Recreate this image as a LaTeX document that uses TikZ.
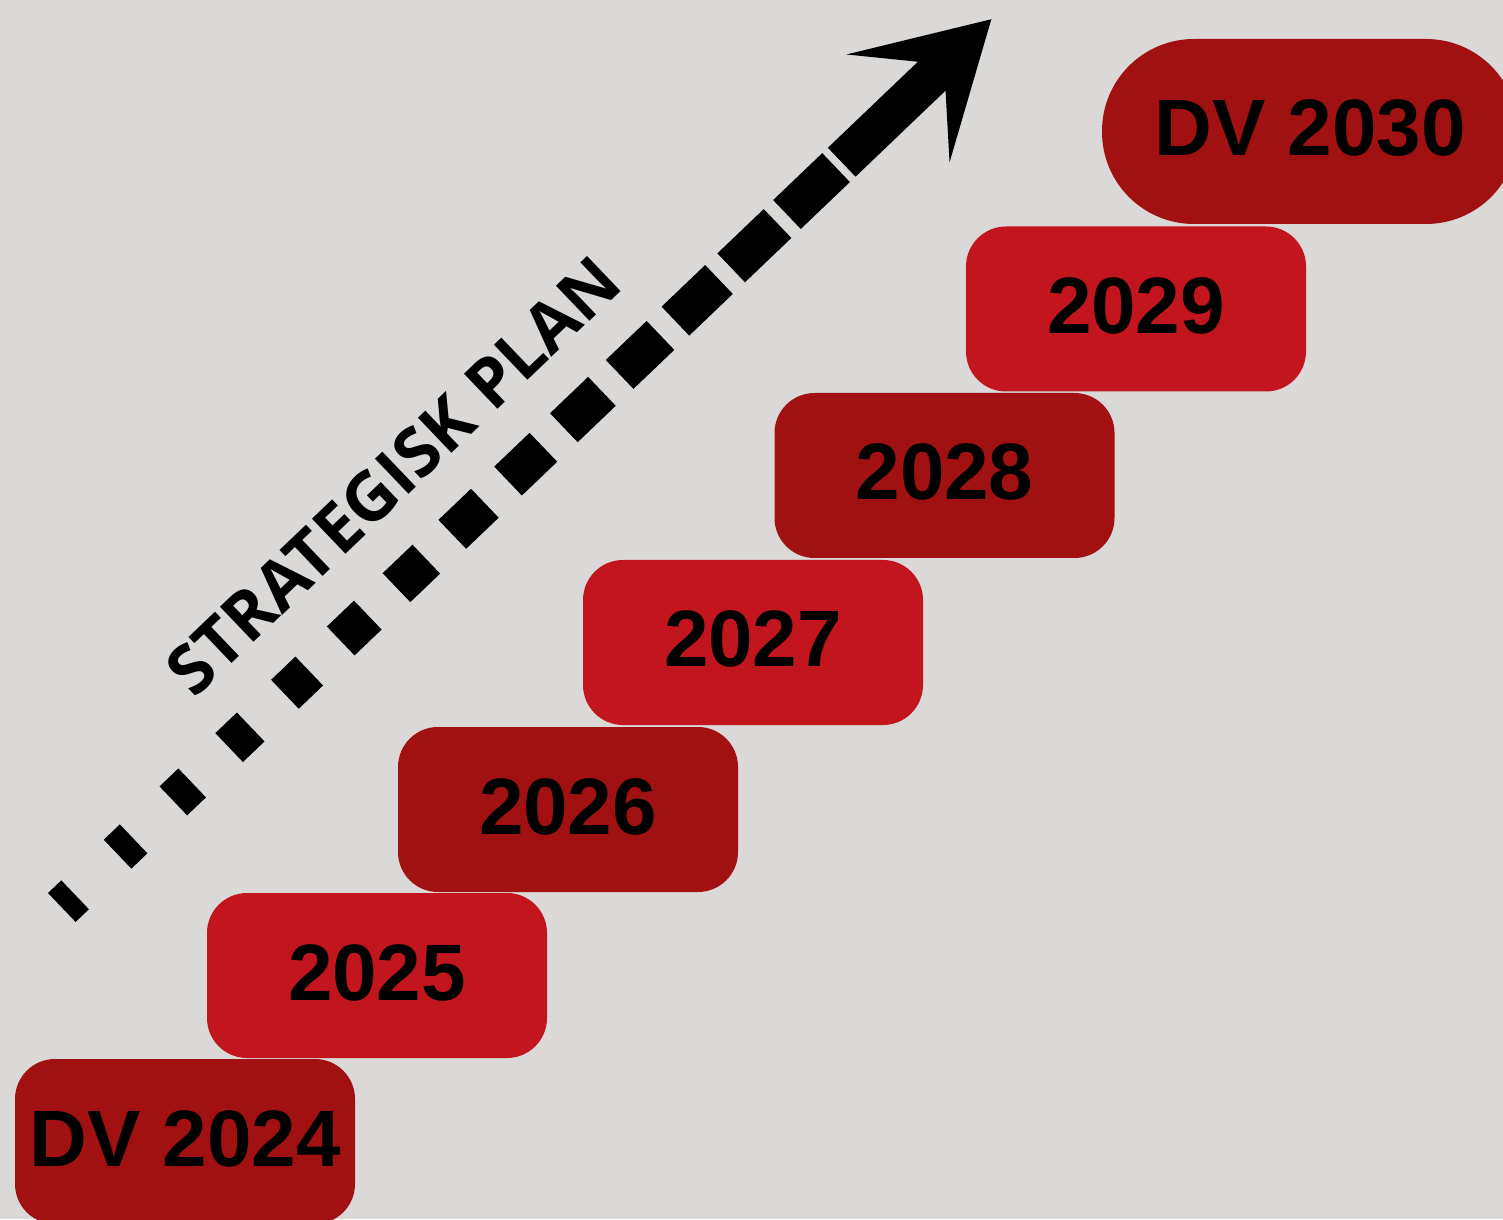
\documentclass[tikz,border=0pt]{standalone}
\usepackage{fontspec}
\setmainfont{Liberation Sans}
\newfontfamily\labelfont{Open Sans}
\definecolor{bg}{RGB}{218,217,215}
\definecolor{lightred}{RGB}{194,21,29}
\definecolor{darkred}{RGB}{162,17,18}
\begin{document}
\begin{tikzpicture}[x=1pt,y=1pt,
  yearbox/.style={rectangle, rounded corners=40pt, minimum width=340pt, minimum height=165pt,
    inner sep=0pt, font=\fontsize{80}{80}\selectfont\bfseries, text height=57pt, text depth=8pt, text=black},
  lightbox/.style={yearbox, fill=lightred},
  darkbox/.style={yearbox, fill=darkred},
  arrowpart/.style={fill=black},
  plantext/.style={font=\fontsize{68}{68}\selectfont\labelfont\bfseries, text=black, inner sep=0pt, anchor=base, transform shape}
]
\useasboundingbox (0,0) rectangle (1503,1219);
\fill[bg] (0,0) rectangle (1503,1219);
\clip (0,0) rectangle (1503,1219);

\node[darkbox]  (y2024) at (185,77.5)   {DV 2024};
\node[lightbox] (y2025) at (377,243.5)  {2025};
\node[darkbox]  (y2026) at (568,409.5)  {2026};
\node[lightbox] (y2027) at (753,576.5)  {2027};
\node[darkbox]  (y2028) at (944.5,743.5) {2028};
\node[lightbox] (y2029) at (1136,910)   {2029};
\node[darkbox, minimum width=416pt, minimum height=185pt, rounded corners=92pt] (y2030) at (1310,1087.5) {DV 2030};

\coordinate (arrowstart) at (61.8,311.5);
\begin{scope}[shift={(arrowstart)}, rotate=43.7]
  \foreach \k in {0,...,13} {
    \fill[arrowpart] ({77.16*\k},-20) rectangle ({77.16*\k+18.4+3.81*\k},20);
  }
  \coordinate (arrowtip) at (1285.8,0);
  \fill[arrowpart] (1078.8,-20) -- (1203.3,-20) -- (1156.7,-74.6) -- (arrowtip)
     -- (1156.7,74.6) -- (1203.3,20) -- (1078.8,20) -- cycle;
  \node[plantext] (plan) at (538,59) {STRATEGISK PLAN};
\end{scope}
\end{tikzpicture}
\end{document}
